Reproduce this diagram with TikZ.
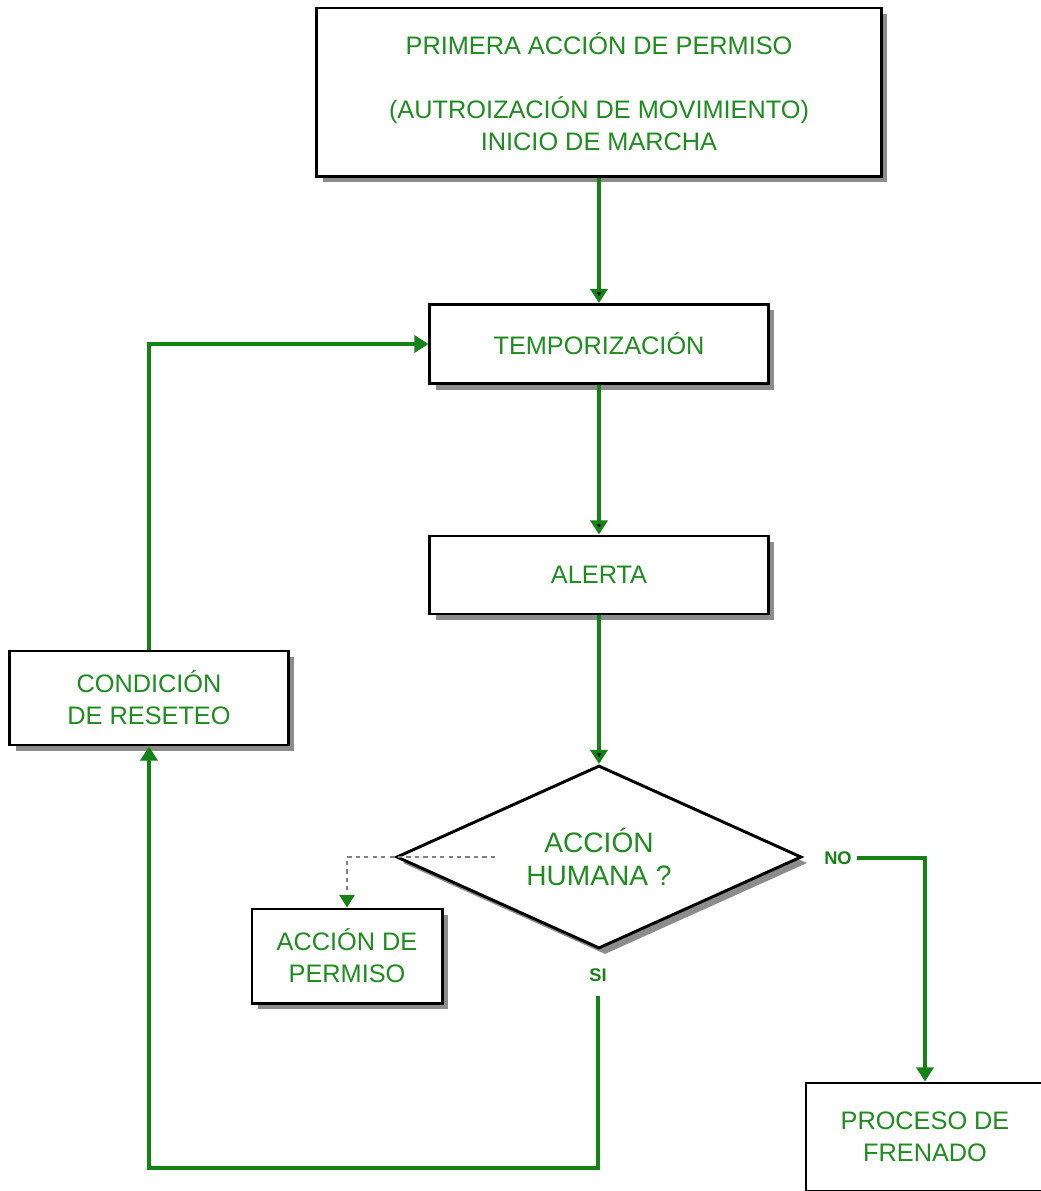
\documentclass[tikz,border=0pt]{standalone}
\usepackage{fontspec}
\setmainfont{Liberation Sans}
\usetikzlibrary{shapes.geometric,arrows.meta,shadows}
\definecolor{flujo}{RGB}{20,130,20}
\definecolor{texto}{RGB}{30,140,30}
\tikzset{
  caja/.style={draw=black, line width=2.1pt, fill=white, text=texto, align=center,
    font=\fontsize{18}{22.8}\selectfont,
    drop shadow={shadow xshift=0.15cm, shadow yshift=-0.15cm, fill=black!60, opacity=0.75}},
  rombo/.style={caja, diamond, aspect=2.2, inner sep=0pt, font=\fontsize{20}{24}\selectfont},
  rama/.style={text=flujo, font=\bfseries\fontsize{13}{15}\selectfont},
  linea/.style={draw=flujo, line width=2.6pt},
  >={Triangle[length=10pt,width=12pt]},
}
\begin{document}
\begin{tikzpicture}[x=0.025cm,y=-0.025cm]
  \useasboundingbox (0,0) rectangle (1040,1191);

  \node[caja, minimum width=14.1cm, minimum height=4.2cm] (P1) at (599,92)
    {PRIMERA ACCIÓN DE PERMISO\\[22.8pt](AUTROIZACIÓN DE MOVIMIENTO)\\INICIO DE MARCHA};
  \node[caja, minimum width=8.45cm, minimum height=1.975cm] (T) at (599,344) {TEMPORIZACIÓN};
  \node[caja, minimum width=8.45cm, minimum height=1.95cm]  (A) at (599,575) {ALERTA};
  \node[rombo, minimum width=10.125cm, minimum height=4.575cm] (D) at (599,857) {ACCIÓN\\HUMANA ?};
  \node[caja, minimum width=6.95cm, minimum height=2.35cm] (R) at (149,698) {CONDICIÓN\\DE RESETEO};
  \node[caja, minimum width=4.75cm, minimum height=2.35cm] (P) at (347,956) {ACCIÓN DE\\PERMISO};
  \node[caja, minimum width=5.95cm, minimum height=2.7cm]  (F) at (925,1137) {PROCESO DE\\FRENADO};
  \node[rama] (NO) at (838,858) {NO};
  \node[rama] (SI) at (598,975) {SI};
  \coordinate (dS) at (495,857);
  \coordinate (vuelta) at (598,1168);

  \path[->, linea]
    (P1) edge (T)
    (T)  edge (A)
    (A)  edge (D);
  \draw[->, linea] (NO.east) -| (F.north);
  \draw[->, linea, shorten <=7pt] (SI.south) -- (vuelta) -| (R.south);
  \draw[->, linea] (R.north) |- (T.west);
  \draw[-{Triangle[length=9pt,width=11pt,color=flujo]}, gray, dashed, line width=0.9pt]
    (dS) -| (P.north);
\end{tikzpicture}
\end{document}
